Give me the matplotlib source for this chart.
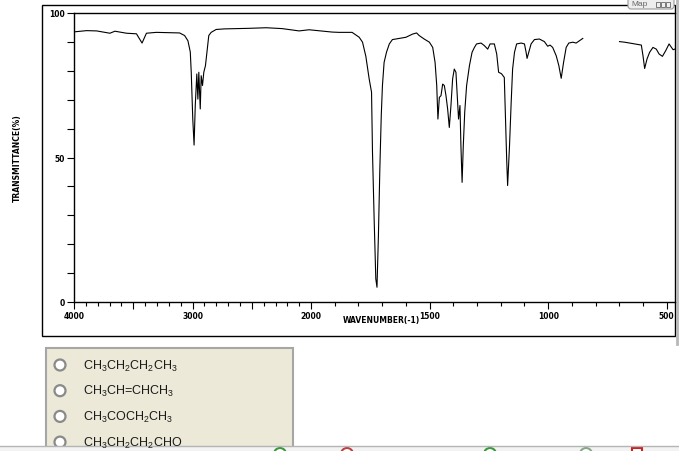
import numpy as np
import matplotlib
matplotlib.use("Agg")
import matplotlib.pyplot as plt
from matplotlib.patches import Rectangle, Circle, FancyBboxPatch

plt.rcParams["font.family"] = ["Liberation Sans", "DejaVu Sans"]
plt.rcParams["mathtext.default"] = "regular"

# IR-Spektrum (Wellenzahl in cm-1, Transmission in %)
wellenzahl_1 = [3992, 3893, 3809, 3697, 3655, 3557, 3473, 3426, 3389, 3305, 3193, 3109,
                3067, 3039, 3019, 3011, 2998, 2987, 2977, 2964, 2955, 2947, 2935, 2927,
                2916, 2905, 2891, 2876, 2863, 2843, 2801, 2731, 2521, 2378, 2244, 2101,
                2017, 1911, 1882, 1827, 1797, 1783, 1769, 1755, 1745, 1741, 1734, 1727,
                1722, 1716, 1710, 1704, 1699, 1692, 1682, 1670, 1657, 1628, 1600, 1572,
                1555, 1544, 1523, 1501, 1487, 1477, 1470, 1465, 1459, 1452, 1445, 1438,
                1431, 1424, 1417, 1410, 1403, 1396, 1389, 1382, 1378, 1372, 1368, 1363,
                1358, 1352, 1344, 1332, 1321, 1311, 1302, 1283, 1269, 1255, 1245, 1227,
                1217, 1209, 1197, 1185, 1180, 1175, 1171, 1163, 1156, 1150, 1142, 1133,
                1114, 1100, 1093, 1089, 1082, 1072, 1058, 1037, 1016, 1002, 992, 981,
                966, 955, 945, 935, 924, 913, 896, 882, 868, 854]
transmission_1 = [93.5, 93.9, 93.8, 93.0, 93.7, 93.0, 92.8, 89.6, 93.0, 93.3, 93.2, 93.1,
                  92.2, 90.4, 86.5, 79.5, 63.3, 54.3, 68.0, 78.9, 70.2, 79.5, 66.8, 78.3,
                  74.9, 79.5, 81.8, 87.5, 92.2, 93.3, 94.3, 94.5, 94.7, 94.9, 94.6, 93.8,
                  94.2, 93.4, 93.3, 93.3, 91.6, 89.9, 85.0, 77.2, 72.6, 51.9, 28.7, 8.0,
                  5.1, 22.9, 46.0, 64.5, 74.9, 82.9, 86.4, 89.3, 90.8, 91.2, 91.6, 92.7,
                  93.1, 92.2, 91.0, 89.9, 88.1, 82.9, 74.9, 63.3, 70.8, 71.4, 75.4, 74.9,
                  71.4, 66.8, 60.4, 68.0, 77.2, 80.6, 79.5, 69.1, 63.3, 68.0, 54.1, 41.4,
                  54.1, 65.6, 74.9, 81.8, 86.4, 88.1, 89.3, 89.6, 88.7, 87.5, 89.3, 89.3,
                  85.8, 79.5, 79.0, 77.7, 63.3, 49.5, 40.3, 54.1, 69.1, 80.6, 86.4, 89.3,
                  89.6, 89.3, 86.4, 84.3, 86.4, 89.3, 90.8, 91.0, 90.1, 88.5, 88.9, 88.1,
                  85.2, 81.8, 77.4, 82.9, 88.1, 89.6, 89.9, 89.6, 90.4, 91.2]
wellenzahl_2 = [699, 678, 656, 635, 607, 600, 593, 583, 572, 558, 544, 532, 518, 504,
                490, 480, 473, 466]
transmission_2 = [90.1, 89.9, 89.6, 89.3, 88.9, 85.2, 80.8, 84.1, 86.4, 88.1, 87.5, 85.8,
                  85.0, 87.0, 89.3, 88.1, 87.3, 87.5]

x_ticks = [4000, 3500, 3000, 2500, 2000, 1500, 1000, 500]
x_tick_labels = ["4000", "", "3000", "", "2000", "1500", "1000", "500"]
y_ticks = [0, 10, 20, 30, 40, 50, 60, 70, 80, 90, 100]
y_tick_labels = ["0", "", "", "", "", "50", "", "", "", "", "100"]

antworten = [r"CH$_3$CH$_2$CH$_2$CH$_3$", r"CH$_3$CH=CHCH$_3$",
             r"CH$_3$COCH$_2$CH$_3$", r"CH$_3$CH$_2$CH$_2$CHO"]


# oberhalb von 2000 cm-1 ist die achse halb so stark gedehnt
def vorwaerts(w):
    w = np.asarray(w, dtype=float)
    return np.where(w > 2000, 2000 + (w - 2000) / 2, w)


def rueckwaerts(v):
    v = np.asarray(v, dtype=float)
    return np.where(v > 2000, 2000 + (v - 2000) * 2, v)


fig = plt.figure(figsize=(6.79, 4.52), dpi=100)

# hintergrund-achse in pixelkoordinaten fuer rahmen und formular
bg = fig.add_axes([0, 0, 1, 1])
bg.set_xlim(0, 679)
bg.set_ylim(452, 0)
bg.axis("off")

bg.add_patch(Rectangle((42, 6), 633, 331, fill=False, ec="black", lw=1))
bg.plot([677, 677], [0, 345], color="#b8b8b8", lw=2)
bg.add_patch(FancyBboxPatch((628, -6), 46, 16, boxstyle="round,pad=0,rounding_size=3",
                            fc="#eeeeee", ec="#9a9a9a", lw=0.8))
bg.text(631, 4.5, "Map", fontsize=6, color="#666666", va="center", ha="left")
for dx in [0, 5, 10]:
    bg.add_patch(Rectangle((656 + dx, 3), 4, 5, fill=False, ec="#666666", lw=0.6))

# antwortfeld
bg.add_patch(Rectangle((46, 349), 247, 110, fc="#ece9d8", ec="#a6a6a6", lw=1.5))
for i, text in enumerate(antworten):
    y = 366 + i * 25.7
    bg.add_patch(Circle((60, y), 5.5, fc="white", ec="#8a8a8a", lw=1.6))
    bg.text(83, y, text, fontsize=9, va="center", ha="left", color="#1a1a1a")

# leiste unten
bg.add_patch(Rectangle((0, 447), 679, 10, fc="#f3f3f3", ec="none"))
bg.plot([0, 679], [447, 447], color="#b5b5b5", lw=1)
for x, farbe in [(280, "#3a9a3a"), (347, "#c04040"), (490, "#3a9a3a"),
                 (586, "#88a888")]:
    bg.add_patch(Circle((x, 455), 6, fc="white", ec=farbe, lw=1.5))
bg.add_patch(Rectangle((632, 449), 10, 10, fc="white", ec="#cc2222", lw=1.5))

# spektrum
ax = fig.add_axes([74 / 679, 1 - 303 / 452, 601 / 679, 289 / 452])
ax.patch.set_alpha(0)
ax.set_xscale("function", functions=(vorwaerts, rueckwaerts))
ax.plot(wellenzahl_1, transmission_1, color="black", lw=0.8)
ax.plot(wellenzahl_2, transmission_2, color="black", lw=0.8)
ax.set_xlim(4000, 465)
ax.set_ylim(0, 100)

ax.spines["right"].set_visible(False)
for s in ["left", "bottom", "top"]:
    ax.spines[s].set_linewidth(1)

ax.set_xticks(x_ticks)
ax.set_xticklabels(x_tick_labels)
ax.set_xticks(range(500, 4000, 100), minor=True)
ax.set_yticks(y_ticks)
ax.set_yticklabels(y_tick_labels)
ax.tick_params(axis="both", which="major", direction="out", length=5, width=0.8,
               labelsize=5.5, pad=1.5)
ax.tick_params(axis="x", which="minor", direction="out", length=3, width=0.8)
for lab in ax.get_xticklabels() + ax.get_yticklabels():
    lab.set_family("DejaVu Sans")
    lab.set_fontweight("bold")

fig.text(343 / 679, 1 - 321 / 452, "WAVENUMBER(-1)", fontsize=5.5, family="DejaVu Sans",
         fontweight="bold", ha="left", va="center")
fig.text(17 / 679, 1 - 158 / 452, "TRANSMITTANCE(%)", fontsize=5.5, family="DejaVu Sans",
         fontweight="bold", rotation=90, ha="center", va="center")

fig.savefig("out.png", dpi=100)
